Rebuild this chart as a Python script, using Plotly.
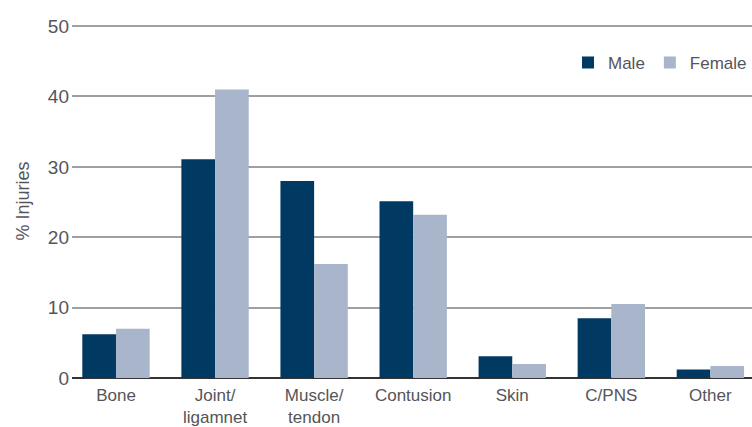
import plotly.graph_objects as go

categories = ["Bone", "Joint/<br>ligamnet", "Muscle/<br>tendon", "Contusion", "Skin", "C/PNS", "Other"]
male = [6.2, 31.1, 28.0, 25.1, 3.1, 8.5, 1.2]
female = [7.0, 41.0, 16.2, 23.2, 2.0, 10.5, 1.7]
y_ticks = [0, 10, 20, 30, 40, 50]

MALE_C = "#003a63"
FEMALE_C = "#a9b5cb"
TXT = "#555559"
FONT = "Liberation Sans, Arial, sans-serif"

fig = go.Figure()
fig.add_trace(go.Bar(x=categories, y=male, name="Male", marker=dict(color=MALE_C, line=dict(width=0))))
fig.add_trace(go.Bar(x=categories, y=female, name="Female", marker=dict(color=FEMALE_C, line=dict(width=0))))

fig.update_layout(
    width=752, height=427,
    margin=dict(l=72, r=0, t=24, b=45),
    plot_bgcolor="white", paper_bgcolor="white",
    barmode="group", bargap=0.32, bargroupgap=0,
    font=dict(family=FONT, size=17, color=TXT),
    showlegend=True,
    legend=dict(orientation="h", x=1.0, xanchor="right", y=0.89, yanchor="middle",
                font=dict(size=17, color=TXT), itemwidth=30, traceorder="normal",
                bgcolor="rgba(0,0,0,0)"),
    xaxis=dict(range=[-0.444, 6.42], showgrid=False, showline=False, ticks="",
               tickfont=dict(size=17, color=TXT), ticklabelstandoff=5, fixedrange=True),
    yaxis=dict(range=[0, 50.3], tickvals=y_ticks, showgrid=True, gridcolor="#a0a0a0", gridwidth=1.5,
               zeroline=True, zerolinecolor="#333333", zerolinewidth=2,
               showline=False, ticks="", ticklen=0, tickfont=dict(size=19, color=TXT),
               ticklabelstandoff=2,
               title=dict(text="% Injuries", font=dict(size=18, color=TXT), standoff=13)),
)

fig.write_html("out.html")
